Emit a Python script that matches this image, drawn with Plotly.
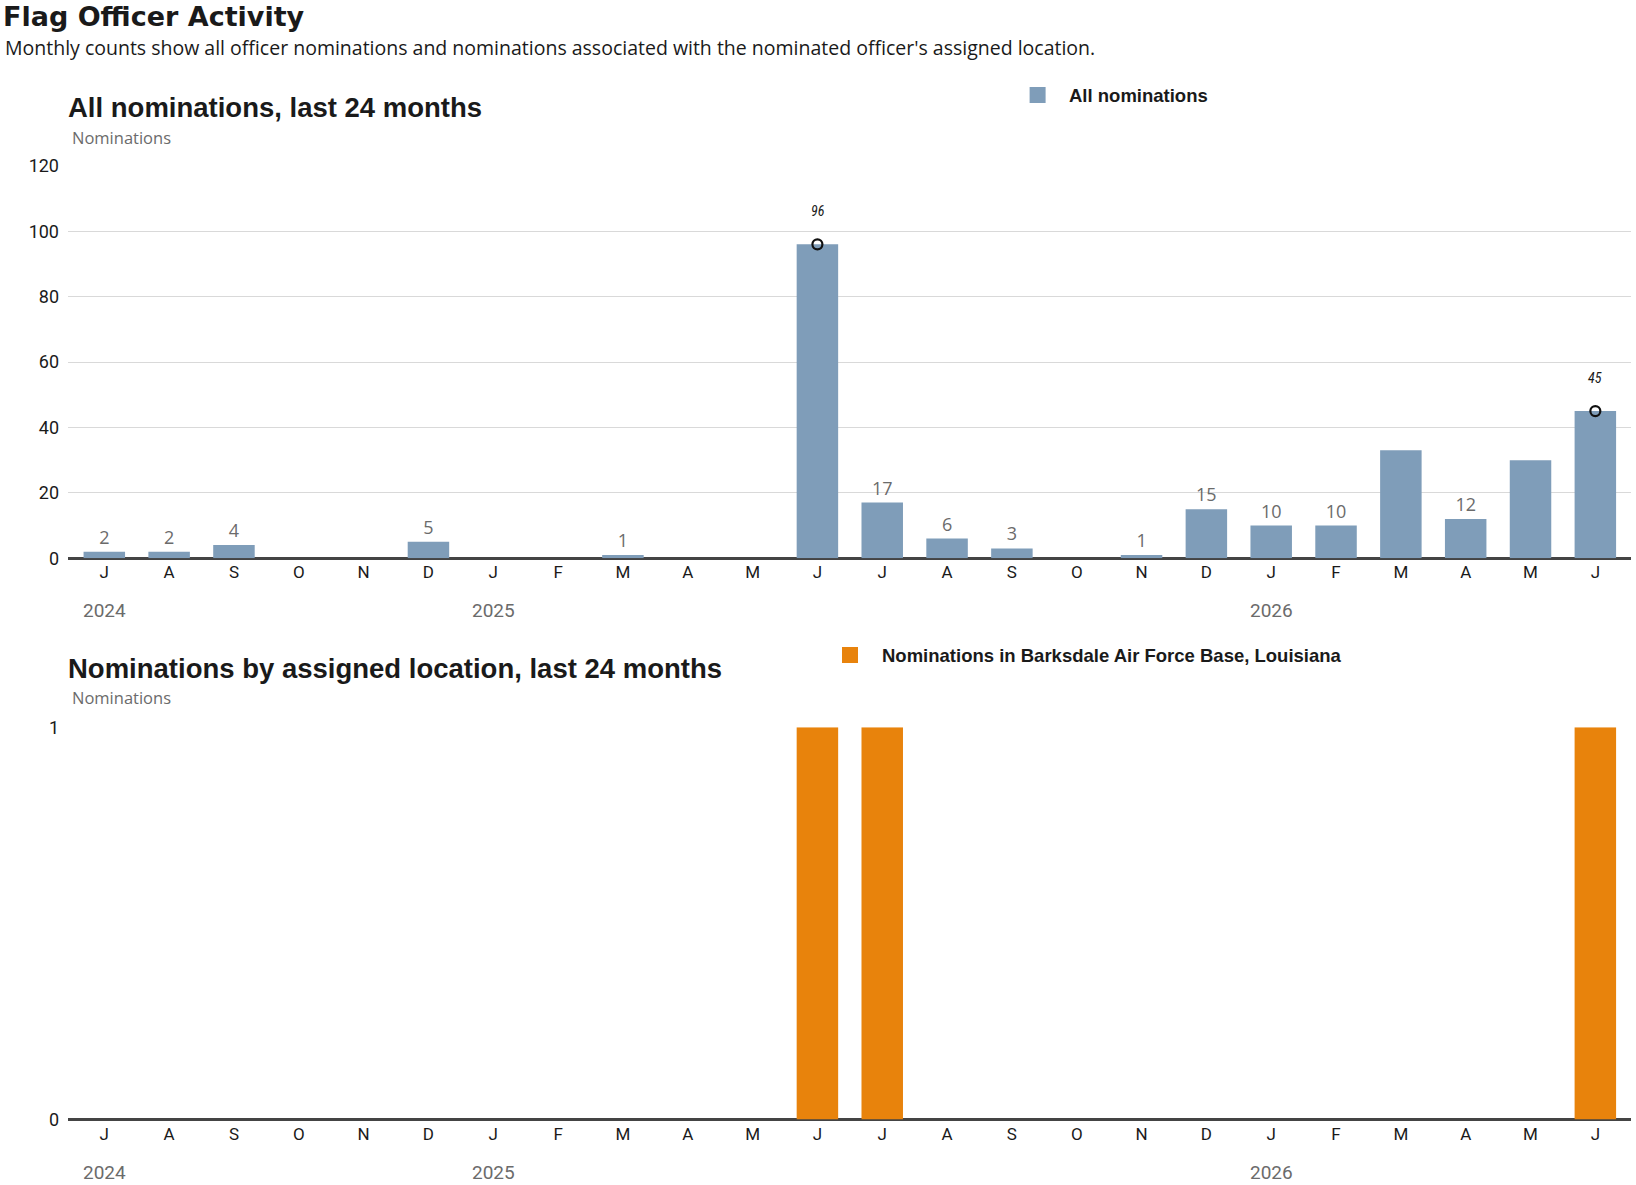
import plotly.graph_objects as go

# ---- data ----
months = ["J", "A", "S", "O", "N", "D", "J", "F", "M", "A", "M", "J",
          "J", "A", "S", "O", "N", "D", "J", "F", "M", "A", "M", "J"]
all_noms = [2, 2, 4, 0, 0, 5, 0, 0, 1, 0, 0, 96, 17, 6, 3, 0, 1, 15, 10, 10, 33, 12, 30, 45]
loc_noms = [0, 0, 0, 0, 0, 0, 0, 0, 0, 0, 0, 1, 1, 0, 0, 0, 0, 0, 0, 0, 0, 0, 0, 1]
year_labels = ["2024", "2025", "2026"]
year_idx = [0, 6, 18]
highlight_idx = [11, 23]          # peaks marked with a circle
unlabeled_idx = [20, 22]          # bars without a value label in the reference
top_ticks = [0, 20, 40, 60, 80, 100, 120]
bottom_ticks = [0, 1]

W, H = 1636, 1185
def px(x):
    return x / W
def py(y):
    return 1 - y / H

BLUE = "#7f9db9"
ORANGE = "#e8830c"
DARK = "#1a1a1a"
GRAY = "#6b6b6b"
GRID = "#d9d9d9"
AXIS = "#444444"
HEAD = "Liberation Sans, Arial, sans-serif"
TITLE = "DejaVu Sans, Liberation Sans, sans-serif"
NARROW = "Liberation Sans Narrow, Roboto Condensed, sans-serif"
BODY = "Open Sans, Roboto, sans-serif"
TICK = "Roboto, Open Sans, sans-serif"

x = list(range(len(months)))
labels = [str(v) if (v > 0 and i not in highlight_idx and i not in unlabeled_idx) else ""
          for i, v in enumerate(all_noms)]

fig = go.Figure()
fig.add_trace(go.Bar(x=x, y=all_noms, width=0.64, marker=dict(color=BLUE, line=dict(width=0)),
                     text=labels, textposition="outside", cliponaxis=False,
                     textfont=dict(family=BODY, size=18, color=GRAY),
                     name="All nominations", showlegend=False, xaxis="x", yaxis="y"))
fig.add_trace(go.Scatter(x=[x[i] for i in highlight_idx], y=[all_noms[i] for i in highlight_idx],
                         mode="markers", cliponaxis=False,
                         marker=dict(symbol="circle-open", size=10, color="#111111", line=dict(width=2.2)),
                         showlegend=False, xaxis="x", yaxis="y"))
fig.add_trace(go.Bar(x=x, y=loc_noms, width=0.64, marker=dict(color=ORANGE, line=dict(width=0)),
                     name="Nominations in Barksdale Air Force Base, Louisiana", showlegend=False,
                     xaxis="x2", yaxis="y2"))

xdom = [px(68), px(1631)]
xrange_ = [-0.56, 23.55]
common_x = dict(domain=xdom, range=xrange_, tickmode="array", tickvals=x, ticktext=months,
                showgrid=False, zeroline=False, showline=False, ticks="", automargin=False,
                tickfont=dict(family=TICK, size=17, color=DARK), ticklabelstandoff=2, fixedrange=True)
common_y = dict(showgrid=True, gridcolor=GRID, gridwidth=1, zeroline=True, zerolinecolor=AXIS,
                zerolinewidth=2.5, showline=False, ticks="", tickmode="array", automargin=False,
                tickfont=dict(family=TICK, size=18, color=DARK), ticklabelstandoff=8, fixedrange=True)

fig.update_layout(
    template="none",
    width=W, height=H, margin=dict(l=0, r=0, t=0, b=0, pad=0, autoexpand=False),
    paper_bgcolor="white", plot_bgcolor="white", bargap=0.36, showlegend=False,
    xaxis=dict(**common_x, anchor="y"),
    yaxis=dict(**common_y, domain=[py(558.2), py(165.9)], range=[0, 120], tickvals=top_ticks, anchor="x"),
    xaxis2=dict(**common_x, anchor="y2"),
    yaxis2=dict(**common_y, domain=[py(1119.6), py(727.2)], range=[0, 1], tickvals=bottom_ticks, anchor="x2"),
)

ann = []
# titles
ann.append(dict(text="<b>Flag Officer Activity</b>", x=px(2), y=1, xanchor="left", yanchor="top",
                borderpad=0, font=dict(family=TITLE, size=27, color=DARK)))
ann.append(dict(text="Monthly counts show all officer nominations and nominations associated with the nominated officer's assigned location.",
                x=px(3), y=py(47), xanchor="left", yanchor="middle", font=dict(family=BODY, size=19.5, color=DARK)))
for title, ty, ny in [("All nominations, last 24 months", 107.5, 139),
                      ("Nominations by assigned location, last 24 months", 668, 698)]:
    ann.append(dict(text="<b>" + title + "</b>", x=px(66), y=py(ty), xanchor="left", yanchor="middle",
                    font=dict(family=HEAD, size=27.5, color=DARK)))
    ann.append(dict(text="Nominations", x=px(70), y=py(ny - 1), xanchor="left", yanchor="middle",
                    font=dict(family=BODY, size=16.5, color=GRAY)))

# legends
shapes = []
for color, label, sx, tx, ly in [(BLUE, "All nominations", 1037.6, 1067, 95),
                                 (ORANGE, "Nominations in Barksdale Air Force Base, Louisiana", 850, 880, 655)]:
    shapes.append(dict(type="rect", xref="paper", yref="paper", x0=px(sx - 8), x1=px(sx + 8),
                       y0=py(ly + 8), y1=py(ly - 8), fillcolor=color, line=dict(width=0)))
    ann.append(dict(text="<b>" + label + "</b>", x=px(tx), y=py(ly), xanchor="left", yanchor="middle",
                    font=dict(family=HEAD, size=18.5, color=DARK)))

# year labels
for xa, yy in [("x", 610), ("x2", 1172)]:
    for lab, i in zip(year_labels, year_idx):
        ann.append(dict(text=lab, x=x[i], xref=xa, y=py(yy), yref="paper", xanchor="center", yanchor="middle",
                        font=dict(family=TICK, size=19, color=GRAY)))

# highlighted peaks
for i in highlight_idx:
    ann.append(dict(text="<i>" + str(all_noms[i]) + "</i>", x=x[i], y=all_noms[i], xref="x", yref="y",
                    yshift=33, xanchor="center", yanchor="middle",
                    font=dict(family=NARROW, size=14, color=DARK)))

for a in ann:
    a.setdefault("xref", "paper")
    a.setdefault("yref", "paper")
    a["showarrow"] = False

fig.update_layout(annotations=ann, shapes=shapes)
fig.write_html("out.html")
